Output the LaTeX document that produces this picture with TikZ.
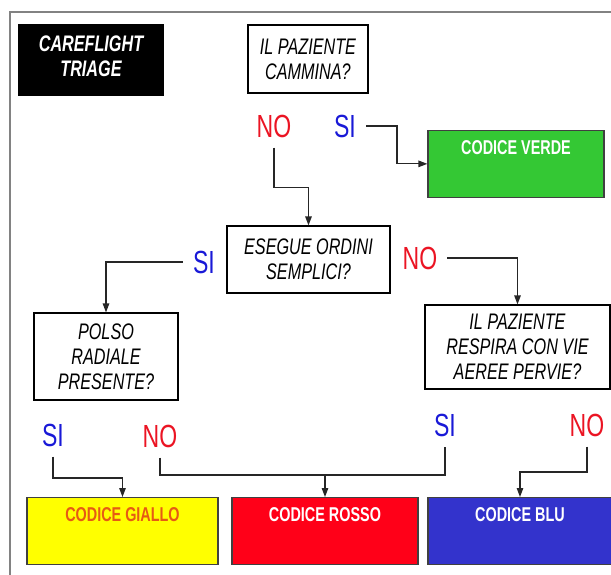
\documentclass[tikz,border=0pt]{standalone}
\usepackage{fontspec}
\setmainfont{Liberation Sans}[FakeStretch=0.72]
\usetikzlibrary{arrows.meta,positioning}
\definecolor{sicol}{RGB}{25,25,215}
\definecolor{nocol}{RGB}{235,20,35}
\definecolor{verdefill}{RGB}{52,200,52}
\definecolor{giallofill}{RGB}{255,255,0}
\definecolor{giallotext}{RGB}{230,90,20}
\definecolor{rossofill}{RGB}{255,0,24}
\definecolor{blufill}{RGB}{51,51,204}
\definecolor{framecol}{RGB}{130,130,130}

\begin{document}
\begin{tikzpicture}[x=1pt,y=-1pt,
        link/.style={line width=1.2pt,black!85},
        arrow/.style={link,-{Triangle[length=9pt,width=6.5pt]}},
        question/.style={draw,line width=1.2pt,align=center,inner sep=0pt,
            font=\fontsize{22.5}{25}\selectfont\itshape},
        codice/.style={draw=black!75,line width=1.2pt,anchor=north,inner xsep=0pt,
            inner ysep=9.5pt,text height=14.5pt,text depth=33pt,
            font=\fontsize{20}{22}\selectfont\bfseries},
        yes/.style={text=sicol,inner sep=10pt,font=\fontsize{32}{33}\selectfont},
        no/.style={text=nocol,inner sep=10pt,font=\fontsize{32}{33}\selectfont}]
        \useasboundingbox (0,0) rectangle (611,574);
        \draw [framecol,line width=1.2pt] (10,600) |- (620,12);
        \node [fill=black,text=white,minimum width=146pt,minimum height=72pt,align=center,
            font=\fontsize{22.5}{25}\selectfont\bfseries\itshape] (title) at (91,60) {CAREFLIGHT\\TRIAGE\\[-17pt]};
        \node [question,minimum width=120pt,minimum height=68pt] (q1) at (308,59) {IL PAZIENTE\\CAMMINA?};
        \node [question,minimum width=163pt,minimum height=67pt] (q2) at (308.5,259.5) {ESEGUE ORDINI\\SEMPLICI?};
        \node [question,minimum width=144pt,minimum height=87pt] (polso) at (106,356.5) {POLSO\\RADIALE\\PRESENTE?};
        \node [question,minimum width=185pt,minimum height=84pt] (respira) at (517.5,347) {IL PAZIENTE\\RESPIRA CON VIE\\AEREE PERVIE?};
        \node [codice,fill=verdefill,text=white,minimum width=176pt] (verde) at (516,130) {CODICE VERDE};
        \node [codice,fill=giallofill,text=giallotext,minimum width=191pt] (giallo) at (122.5,497) {CODICE GIALLO};
        \node [codice,fill=rossofill,text=white,minimum width=186pt] (rosso) at (325,497) {CODICE ROSSO};
        \node [codice,fill=blufill,text=white,minimum width=184pt] (blu) at (520,497) {CODICE BLU};
        \node [no] (no1) at (274,126) {NO};
        \node [yes] (si1) at (345,126) {SI};
        \node [yes] (si2) at (204,262) {SI};
        \node [no] (no2) at (420,258) {NO};
        \node [yes] (si3) at (53,435) {SI};
        \node [no] (no3) at (160,436) {NO};
        \node [yes] (si4) at (445,425) {SI};
        \node [no] (no4) at (587,425) {NO};
        \coordinate (join) at ([yshift=22pt]rosso.north);
        \draw [arrow] (si1.east) -- ++(31,0) |- (verde.west);
        \draw [arrow] (no1.south) |- ([yshift=38pt]q2.north) -- (q2.north);
        \draw [arrow] (si2.west) -| (polso.north);
        \draw [arrow] (no2.east) -| (respira.north);
        \draw [arrow] (si3.south) |- ([yshift=19pt]giallo.north) -- (giallo.north);
        \draw [link] (no3.south) |- (join) -| (si4.south);
        \draw [arrow] (join) -- (rosso.north);
        \draw [arrow] (no4.south) |- ([yshift=25pt]blu.north) -- (blu.north);
\end{tikzpicture}
\end{document}
